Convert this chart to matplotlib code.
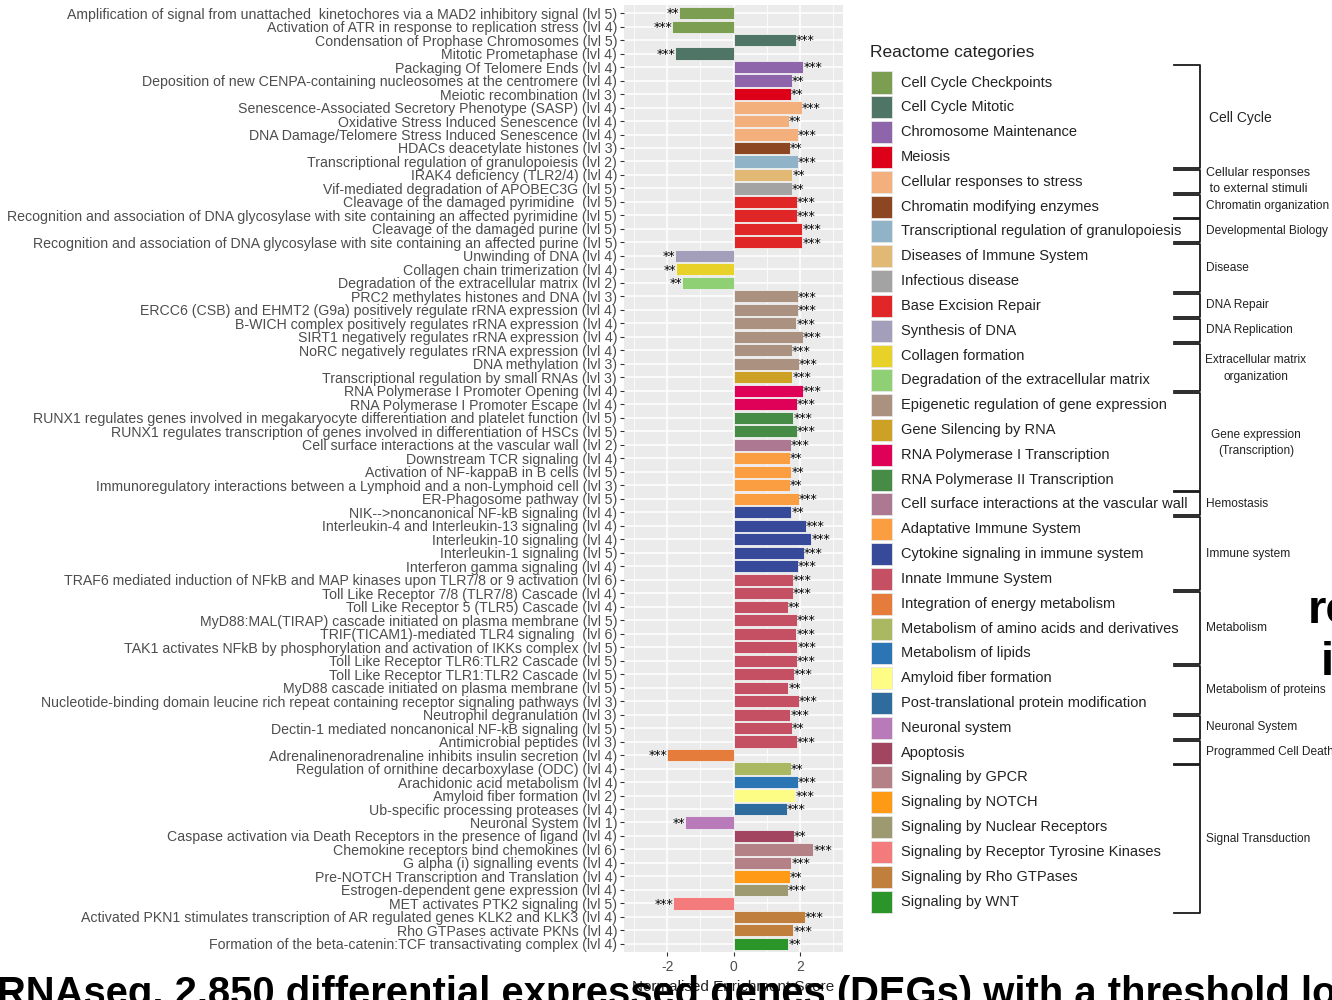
import matplotlib
matplotlib.use('Agg')
import matplotlib.pyplot as plt
import numpy as np
from matplotlib.patches import Rectangle
from matplotlib.lines import Line2D

plt.rcParams['font.family'] = ['Liberation Sans', 'DejaVu Sans']
plt.rcParams['axes.unicode_minus'] = False

# Reactome pathways, top to bottom
pathways = [
    "Amplification of signal from unattached  kinetochores via a MAD2 inhibitory signal (lvl 5)",
    "Activation of ATR in response to replication stress (lvl 4)",
    "Condensation of Prophase Chromosomes (lvl 5)",
    "Mitotic Prometaphase (lvl 4)",
    "Packaging Of Telomere Ends (lvl 4)",
    "Deposition of new CENPA-containing nucleosomes at the centromere (lvl 4)",
    "Meiotic recombination (lvl 3)",
    "Senescence-Associated Secretory Phenotype (SASP) (lvl 4)",
    "Oxidative Stress Induced Senescence (lvl 4)",
    "DNA Damage/Telomere Stress Induced Senescence (lvl 4)",
    "HDACs deacetylate histones (lvl 3)",
    "Transcriptional regulation of granulopoiesis (lvl 2)",
    "IRAK4 deficiency (TLR2/4) (lvl 4)",
    "Vif-mediated degradation of APOBEC3G (lvl 5)",
    "Cleavage of the damaged pyrimidine  (lvl 5)",
    "Recognition and association of DNA glycosylase with site containing an affected pyrimidine (lvl 5)",
    "Cleavage of the damaged purine (lvl 5)",
    "Recognition and association of DNA glycosylase with site containing an affected purine (lvl 5)",
    "Unwinding of DNA (lvl 4)",
    "Collagen chain trimerization (lvl 4)",
    "Degradation of the extracellular matrix (lvl 2)",
    "PRC2 methylates histones and DNA (lvl 3)",
    "ERCC6 (CSB) and EHMT2 (G9a) positively regulate rRNA expression (lvl 4)",
    "B-WICH complex positively regulates rRNA expression (lvl 4)",
    "SIRT1 negatively regulates rRNA expression (lvl 4)",
    "NoRC negatively regulates rRNA expression (lvl 4)",
    "DNA methylation (lvl 3)",
    "Transcriptional regulation by small RNAs (lvl 3)",
    "RNA Polymerase I Promoter Opening (lvl 4)",
    "RNA Polymerase I Promoter Escape (lvl 4)",
    "RUNX1 regulates genes involved in megakaryocyte differentiation and platelet function (lvl 5)",
    "RUNX1 regulates transcription of genes involved in differentiation of HSCs (lvl 5)",
    "Cell surface interactions at the vascular wall (lvl 2)",
    "Downstream TCR signaling (lvl 4)",
    "Activation of NF-kappaB in B cells (lvl 5)",
    "Immunoregulatory interactions between a Lymphoid and a non-Lymphoid cell (lvl 3)",
    "ER-Phagosome pathway (lvl 5)",
    "NIK-->noncanonical NF-kB signaling (lvl 4)",
    "Interleukin-4 and Interleukin-13 signaling (lvl 4)",
    "Interleukin-10 signaling (lvl 4)",
    "Interleukin-1 signaling (lvl 5)",
    "Interferon gamma signaling (lvl 4)",
    "TRAF6 mediated induction of NFkB and MAP kinases upon TLR7/8 or 9 activation (lvl 6)",
    "Toll Like Receptor 7/8 (TLR7/8) Cascade (lvl 4)",
    "Toll Like Receptor 5 (TLR5) Cascade (lvl 4)",
    "MyD88:MAL(TIRAP) cascade initiated on plasma membrane (lvl 5)",
    "TRIF(TICAM1)-mediated TLR4 signaling  (lvl 6)",
    "TAK1 activates NFkB by phosphorylation and activation of IKKs complex (lvl 5)",
    "Toll Like Receptor TLR6:TLR2 Cascade (lvl 5)",
    "Toll Like Receptor TLR1:TLR2 Cascade (lvl 5)",
    "MyD88 cascade initiated on plasma membrane (lvl 5)",
    "Nucleotide-binding domain leucine rich repeat containing receptor signaling pathways (lvl 3)",
    "Neutrophil degranulation (lvl 3)",
    "Dectin-1 mediated noncanonical NF-kB signaling (lvl 5)",
    "Antimicrobial peptides (lvl 3)",
    "Adrenalinenoradrenaline inhibits insulin secretion (lvl 4)",
    "Regulation of ornithine decarboxylase (ODC) (lvl 4)",
    "Arachidonic acid metabolism (lvl 4)",
    "Amyloid fiber formation (lvl 2)",
    "Ub-specific processing proteases (lvl 4)",
    "Neuronal System (lvl 1)",
    "Caspase activation via Death Receptors in the presence of ligand (lvl 4)",
    "Chemokine receptors bind chemokines (lvl 6)",
    "G alpha (i) signalling events (lvl 4)",
    "Pre-NOTCH Transcription and Translation (lvl 4)",
    "Estrogen-dependent gene expression (lvl 4)",
    "MET activates PTK2 signaling (lvl 5)",
    "Activated PKN1 stimulates transcription of AR regulated genes KLK2 and KLK3 (lvl 4)",
    "Rho GTPases activate PKNs (lvl 4)",
    "Formation of the beta-catenin:TCF transactivating complex (lvl 4)",
]

nes = [
    -1.64, -1.85, 1.88, -1.76, 2.10, 1.75, 1.72, 2.05, 1.66, 1.94,
    1.70, 1.94, 1.77, 1.75, 1.90, 1.90, 2.07, 2.07, -1.76, -1.74,
    -1.56, 1.94, 1.93, 1.89, 2.09, 1.75, 1.96, 1.77, 2.09, 1.91,
    1.80, 1.90, 1.72, 1.70, 1.74, 1.70, 1.97, 1.74, 2.18, 2.35,
    2.12, 1.93, 1.79, 1.79, 1.64, 1.90, 1.89, 1.92, 1.91, 1.82,
    1.65, 1.96, 1.71, 1.75, 1.91, -1.99, 1.72, 1.93, 1.86, 1.60,
    -1.45, 1.81, 2.41, 1.74, 1.70, 1.64, -1.81, 2.15, 1.80, 1.65,
]

signif = [
    "**", "***", "***", "***", "***", "**", "**", "***", "**", "***",
    "**", "***", "**", "**", "***", "***", "***", "***", "**", "**",
    "**", "***", "***", "***", "***", "***", "***", "***", "***", "***",
    "***", "***", "***", "**", "**", "**", "***", "**", "***", "***",
    "***", "***", "***", "***", "**", "***", "***", "***", "***", "***",
    "**", "***", "***", "**", "***", "***", "**", "***", "***", "***",
    "**", "**", "***", "***", "**", "***", "***", "***", "***", "**",
]

category = (
    ["Cell Cycle Checkpoints"] * 2 + ["Cell Cycle Mitotic"] * 2
    + ["Chromosome Maintenance"] * 2 + ["Meiosis"]
    + ["Cellular responses to stress"] * 3 + ["Chromatin modifying enzymes"]
    + ["Transcriptional regulation of granulopoiesis"]
    + ["Diseases of Immune System"] + ["Infectious disease"]
    + ["Base Excision Repair"] * 4 + ["Synthesis of DNA"]
    + ["Collagen formation"] + ["Degradation of the extracellular matrix"]
    + ["Epigenetic regulation of gene expression"] * 6
    + ["Gene Silencing by RNA"] + ["RNA Polymerase I Transcription"] * 2
    + ["RNA Polymerase II Transcription"] * 2
    + ["Cell surface interactions at the vascular wall"]
    + ["Adaptative Immune System"] * 4
    + ["Cytokine signaling in immune system"] * 5
    + ["Innate Immune System"] * 13
    + ["Integration of energy metabolism"]
    + ["Metabolism of amino acids and derivatives"]
    + ["Metabolism of lipids"] + ["Amyloid fiber formation"]
    + ["Post-translational protein modification"] + ["Neuronal system"]
    + ["Apoptosis"] + ["Signaling by GPCR"] * 2 + ["Signaling by NOTCH"]
    + ["Signaling by Nuclear Receptors"]
    + ["Signaling by Receptor Tyrosine Kinases"]
    + ["Signaling by Rho GTPases"] * 2 + ["Signaling by WNT"]
)

legend_labels = [
    "Cell Cycle Checkpoints", "Cell Cycle Mitotic", "Chromosome Maintenance",
    "Meiosis", "Cellular responses to stress", "Chromatin modifying enzymes",
    "Transcriptional regulation of granulopoiesis", "Diseases of Immune System",
    "Infectious disease", "Base Excision Repair", "Synthesis of DNA",
    "Collagen formation", "Degradation of the extracellular matrix",
    "Epigenetic regulation of gene expression", "Gene Silencing by RNA",
    "RNA Polymerase I Transcription", "RNA Polymerase II Transcription",
    "Cell surface interactions at the vascular wall", "Adaptative Immune System",
    "Cytokine signaling in immune system", "Innate Immune System",
    "Integration of energy metabolism", "Metabolism of amino acids and derivatives",
    "Metabolism of lipids", "Amyloid fiber formation",
    "Post-translational protein modification", "Neuronal system", "Apoptosis",
    "Signaling by GPCR", "Signaling by NOTCH", "Signaling by Nuclear Receptors",
    "Signaling by Receptor Tyrosine Kinases", "Signaling by Rho GTPases",
    "Signaling by WNT",
]

legend_colors = [
    "#7b9e51", "#4e7566", "#8e65ab", "#dc0019", "#f3b07c", "#8d4622",
    "#91b3c7", "#e2b875", "#a3a3a3", "#e02626", "#a39fba", "#e8d229",
    "#90d075", "#ab9180", "#cda125", "#df0058", "#478c46", "#ac7892",
    "#fb9d41", "#374a9a", "#c55064", "#e57c3c", "#a9b861", "#2c75b4",
    "#fdfd85", "#2e6c9e", "#b87ab8", "#a14560", "#b38186", "#fe9a16",
    "#9d9a72", "#f47b7b", "#c17f3e", "#2c9529",
]

# top-level Reactome groups and how many legend entries each spans
groups = [
    "Cell Cycle", "Cellular responses\n to external stimuli",
    "Chromatin organization", "Developmental Biology", "Disease",
    "DNA Repair", "DNA Replication", "Extracellular matrix\norganization",
    "Gene expression\n(Transcription)", "Hemostasis", "Immune system",
    "Metabolism", "Metabolism of proteins", "Neuronal System",
    "Programmed Cell Death", "Signal Transduction",
]
group_sizes = [4, 1, 1, 1, 2, 1, 1, 2, 4, 1, 3, 3, 2, 1, 1, 6]

W, H = 1332, 1000


def fx(px):
    return px / W


def fy(py):
    return 1 - py / H


fig = plt.figure(figsize=(13.32, 10), dpi=100)
ax = fig.add_axes([fx(624), fy(952), fx(843) - fx(624), fy(5) - fy(952)])

color_map = dict(zip(legend_labels, legend_colors))
ypos = np.arange(len(pathways))
bar_colors = [color_map[c] for c in category]

ax.set_facecolor("#ebebeb")
ax.barh(ypos, nes, height=0.9, color=bar_colors, edgecolor="#f2f2f2",
        linewidth=0.6, zorder=2)

for y, v, s in zip(ypos, nes, signif):
    if v >= 0:
        ax.text(v, y + 0.05, s, ha="left", va="center", fontsize=9,
                color="black", zorder=3, family="DejaVu Sans")
    else:
        ax.text(v, y + 0.05, s, ha="right", va="center", fontsize=9,
                color="black", zorder=3, family="DejaVu Sans")

ax.set_xlim(-3.3, 3.3)
ax.set_ylim(len(pathways) - 0.4, -0.6)
ax.set_xticks([-2, 0, 2])
ax.set_xticks([-3, -1, 1, 3], minor=True)
ax.set_yticks(ypos)
ax.set_yticklabels(pathways)
ax.grid(which="major", color="white", linewidth=1.1, zorder=0)
ax.grid(which="minor", axis="x", color="white", linewidth=0.55, zorder=0)
ax.set_axisbelow(True)
for sp in ax.spines.values():
    sp.set_visible(False)
ax.tick_params(axis="y", labelsize=10.2, labelcolor="#4d4d4d", color="#333333",
               length=3, width=0.8, pad=2)
ax.tick_params(axis="x", labelsize=10, labelcolor="#4d4d4d", color="#333333",
               length=3, width=0.8, pad=3)
ax.tick_params(which="minor", length=0)
ax.set_xlabel("Normalised Enrichment Score", fontsize=11, color="#222222",
              labelpad=4)

# legend, drawn by hand so the group brackets can line up with it
fig.text(fx(870), fy(52), "Reactome categories", fontsize=12.5,
         color="#222222", ha="left", va="center")
pitch = 24.82
row_y = [82.5 + i * pitch for i in range(len(legend_labels))]
for yy, lab, col in zip(row_y, legend_labels, legend_colors):
    fig.patches.append(Rectangle((fx(871), fy(yy + 11)), fx(21), 22 / H,
                                 transform=fig.transFigure, facecolor=col,
                                 edgecolor="#e6e6e6", linewidth=0.6))
    fig.text(fx(901), fy(yy), lab, fontsize=10.5, color="#222222",
             ha="left", va="center")

start = 0
for name, n in zip(groups, group_sizes):
    top = row_y[start] - 12.0
    bot = row_y[start + n - 1] + 11.0
    if start == 0:
        top -= 6
    xs = [fx(1174), fx(1200), fx(1200), fx(1174)]
    ys = [fy(top), fy(top), fy(bot), fy(bot)]
    fig.lines.append(Line2D(xs, ys, transform=fig.transFigure,
                            color="#1a1a1a", linewidth=1.3))
    mid = (top + bot) / 2
    if name == "Cell Cycle":
        fig.text(fx(1209), fy(mid + 2), name, fontsize=10, color="#222222",
                 ha="left", va="center")
    elif name.startswith("Extracellular") or name.startswith("Gene"):
        fig.text(fx(1256), fy(mid + 1), name, fontsize=8.6, color="#222222",
                 ha="center", va="center", multialignment="center",
                 linespacing=1.5)
    elif name.startswith("Cellular"):
        fig.text(fx(1206), fy(mid), name, fontsize=9, color="#222222",
                 ha="left", va="center", linespacing=1.4)
    else:
        fig.text(fx(1206), fy(mid), name, fontsize=8.6, color="#222222",
                 ha="left", va="center")
    start += n

# slide caption and side text running into the frame
fig.text(fx(-3), fy(1005), "RNAseq. 2,850 differential expressed genes (DEGs) "
         "with a threshold log2 fold change", fontsize=28.8, fontweight="bold",
         color="black", ha="left", va="baseline", zorder=5)
fig.text(fx(1308), fy(623), "re", fontsize=34, fontweight="bold",
         color="black", ha="left", va="baseline", zorder=5)
fig.text(fx(1321), fy(675), "i", fontsize=34, fontweight="bold",
         color="black", ha="left", va="baseline", zorder=5)

fig.savefig("out.png", dpi=100, facecolor="white")
